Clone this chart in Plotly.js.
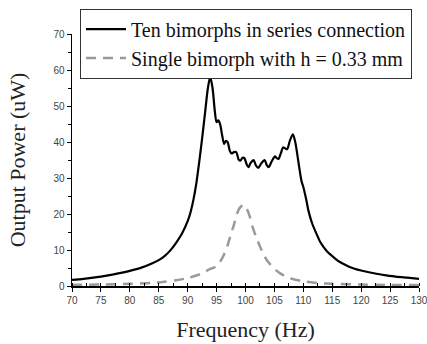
<!DOCTYPE html>
<html>
<head>
<meta charset="utf-8">
<script src="https://cdn.plot.ly/plotly-3.0.1.min.js"></script>
<style>html,body{margin:0;padding:0;background:#fff;}#chart{width:427px;height:344px;}</style>
</head>
<body>
<div id="chart"></div>
<script>
// Ten bimorphs in series connection
const freqSeries = [70,72,74,76,78,80,82,84,85,86,87,88,89,90,90.5,91,91.5,92,92.5,93,93.5,93.9,94.3,94.7,95.0,95.3,95.6,96.0,96.3,96.6,96.9,97.3,97.6,98.0,98.4,98.8,99.1,99.5,99.8,100.2,100.5,100.9,101.4,101.8,102.2,102.7,103.3,103.7,104.0,104.5,105.1,105.4,105.7,106.1,106.5,106.9,107.2,107.7,108.2,108.6,109.1,109.7,110.0,110.5,110.9,111.5,112.3,113,114,115,116,117,118,120,122,124,126,128,130];
const powerSeries = [1.7,2.0,2.4,2.9,3.5,4.2,5.1,6.4,7.2,8.3,9.9,12.0,14.5,18.0,20.5,24.0,28.5,34.5,41,48,55,58,55,48.5,45.5,46,45,41.5,39.5,40.3,40,37.5,36.8,37.2,37.2,35.2,34.8,35.6,35.5,33.8,33,34.2,35,33.5,32.8,34,35,33.5,33,34.5,36,35.5,35.3,36.8,38.5,38.2,38,40.5,42.1,40,35,29,27.5,24,20.8,17.5,14.4,12,9.8,8.3,7,6.1,5.3,4.3,3.6,3.0,2.6,2.3,2.0];

// Single bimorph with h = 0.33 mm
const freqSingle = [70,75,80,84,86,88,90,92,93,94,95,96,96.8,97.5,98,98.5,99,99.6,100.2,100.7,101.2,101.8,102.5,103.2,104,105,106,107,108,110,112,115,120,125,130];
const powerSingle = [0.3,0.4,0.6,0.9,1.2,1.6,2.2,3.2,4.0,4.8,5.5,7.8,10.8,14.5,17,20,21.7,22.5,21.5,19.5,16.5,13.8,11,8.5,6.5,4.8,3.5,2.6,2.0,1.3,0.9,0.6,0.4,0.3,0.3];

const seriesNames = ["Ten bimorphs in series connection", "Single bimorph with h = 0.33 mm"];
const xTickVals = [70,75,80,85,90,95,100,105,110,115,120,125,130];
const yTickVals = [0,10,20,30,40,50,60,70];

const traces = [
  {x: freqSeries, y: powerSeries, name: seriesNames[0], type: 'scatter', mode: 'lines',
   line: {color: '#000000', width: 2.2, shape: 'spline', smoothing: 0.8}},
  {x: freqSingle, y: powerSingle, name: seriesNames[1], type: 'scatter', mode: 'lines',
   line: {color: '#9a9a9a', width: 2.5, dash: '10px,7px', shape: 'spline', smoothing: 0.8}}
];

const tickFont = {family: 'Liberation Sans', size: 10, color: '#444'};
const serif = 'Liberation Serif';

const layout = {
  width: 427, height: 344,
  margin: {l: 72, r: 8, t: 29, b: 58},
  paper_bgcolor: '#fff', plot_bgcolor: '#fff',
  showlegend: true,
  legend: {x: 0.023, y: 1.101, xanchor: 'left', yanchor: 'top',
    bgcolor: '#fff', bordercolor: '#333', borderwidth: 1,
    font: {family: serif, size: 20, color: '#111'},
    itemwidth: 40, tracegroupgap: 0},
  xaxis: {
    range: [70, 130], tickvals: xTickVals, ticktext: xTickVals.map(String),
    showgrid: false, zeroline: false, showline: true, linecolor: '#000', linewidth: 1.5,
    ticks: 'outside', ticklen: 4, tickwidth: 1, tickcolor: '#000',
    minor: {dtick: 2.5, tick0: 70, ticks: 'inside', ticklen: 3, tickcolor: '#000', showgrid: false},
    tickfont: tickFont, ticklabeloverflow: 'allow',
    title: {text: 'Frequency (Hz)', font: {family: serif, size: 22, color: '#222'}, standoff: 17}
  },
  yaxis: {
    range: [0, 70], tickvals: yTickVals, ticktext: yTickVals.map(String),
    showgrid: false, zeroline: false, showline: true, linecolor: '#000', linewidth: 1.5,
    ticks: 'outside', ticklen: 4, tickwidth: 1, tickcolor: '#000',
    minor: {dtick: 5, tick0: 0, ticks: 'outside', ticklen: 2.5, tickcolor: '#000', showgrid: false},
    tickfont: tickFont,
    title: {text: 'Output Power (uW)', font: {family: serif, size: 22, color: '#222'}, standoff: 21}
  }
};

Plotly.newPlot('chart', traces, layout, {displayModeBar: false, staticPlot: true});
</script>
</body>
</html>
